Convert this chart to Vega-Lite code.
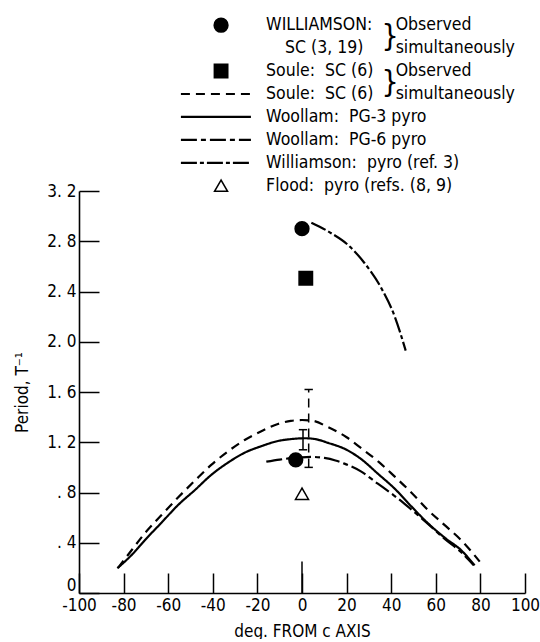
{
  "$schema": "https://vega.github.io/schema/vega-lite/v6.json",
  "padding": {"left": 13, "top": 0, "right": 0, "bottom": 0},
  "bounds": "flush",
  "spacing": 0,
  "background": "white",
  "config": {
    "view": {"stroke": null},
    "font": "DejaVu Sans Condensed, Liberation Sans, sans-serif",
    "text": {"font": "DejaVu Sans Condensed, Liberation Sans, sans-serif", "color": "black"}
  },
  "datasets": {
    "curves": [
      {"series": "Soule SC", "deg": -82.5, "period": 0.2},
      {"series": "Soule SC", "deg": -76, "period": 0.35},
      {"series": "Soule SC", "deg": -70.5, "period": 0.475},
      {"series": "Soule SC", "deg": -63, "period": 0.62},
      {"series": "Soule SC", "deg": -55.6, "period": 0.76},
      {"series": "Soule SC", "deg": -48, "period": 0.895},
      {"series": "Soule SC", "deg": -40.7, "period": 1.02},
      {"series": "Soule SC", "deg": -33, "period": 1.13},
      {"series": "Soule SC", "deg": -25.7, "period": 1.218},
      {"series": "Soule SC", "deg": -18, "period": 1.29},
      {"series": "Soule SC", "deg": -10.8, "period": 1.345},
      {"series": "Soule SC", "deg": -5, "period": 1.37},
      {"series": "Soule SC", "deg": 0, "period": 1.377},
      {"series": "Soule SC", "deg": 5, "period": 1.37},
      {"series": "Soule SC", "deg": 11.7, "period": 1.32},
      {"series": "Soule SC", "deg": 20, "period": 1.24},
      {"series": "Soule SC", "deg": 26.6, "period": 1.152},
      {"series": "Soule SC", "deg": 34, "period": 1.05},
      {"series": "Soule SC", "deg": 41.6, "period": 0.926},
      {"series": "Soule SC", "deg": 49, "period": 0.8},
      {"series": "Soule SC", "deg": 56.5, "period": 0.66},
      {"series": "Soule SC", "deg": 64, "period": 0.54},
      {"series": "Soule SC", "deg": 71.4, "period": 0.42},
      {"series": "Soule SC", "deg": 79.7, "period": 0.25},

      {"series": "Woollam PG-3", "deg": -82.8, "period": 0.197},
      {"series": "Woollam PG-3", "deg": -76, "period": 0.31},
      {"series": "Woollam PG-3", "deg": -70.5, "period": 0.42},
      {"series": "Woollam PG-3", "deg": -63, "period": 0.56},
      {"series": "Woollam PG-3", "deg": -55.6, "period": 0.7},
      {"series": "Woollam PG-3", "deg": -48, "period": 0.82},
      {"series": "Woollam PG-3", "deg": -40.7, "period": 0.94},
      {"series": "Woollam PG-3", "deg": -33, "period": 1.04},
      {"series": "Woollam PG-3", "deg": -25.7, "period": 1.117},
      {"series": "Woollam PG-3", "deg": -18, "period": 1.17},
      {"series": "Woollam PG-3", "deg": -10.8, "period": 1.21},
      {"series": "Woollam PG-3", "deg": -5, "period": 1.225},
      {"series": "Woollam PG-3", "deg": 1.2, "period": 1.232},
      {"series": "Woollam PG-3", "deg": 6, "period": 1.225},
      {"series": "Woollam PG-3", "deg": 11.7, "period": 1.195},
      {"series": "Woollam PG-3", "deg": 20, "period": 1.14},
      {"series": "Woollam PG-3", "deg": 26.6, "period": 1.065},
      {"series": "Woollam PG-3", "deg": 34, "period": 0.95},
      {"series": "Woollam PG-3", "deg": 41.6, "period": 0.83},
      {"series": "Woollam PG-3", "deg": 49, "period": 0.69},
      {"series": "Woollam PG-3", "deg": 56.5, "period": 0.555},
      {"series": "Woollam PG-3", "deg": 64, "period": 0.44},
      {"series": "Woollam PG-3", "deg": 71.4, "period": 0.34},
      {"series": "Woollam PG-3", "deg": 77.4, "period": 0.22},

      {"series": "Woollam PG-6", "deg": -16, "period": 1.045},
      {"series": "Woollam PG-6", "deg": -10, "period": 1.062},
      {"series": "Woollam PG-6", "deg": -5, "period": 1.073},
      {"series": "Woollam PG-6", "deg": 0, "period": 1.08},
      {"series": "Woollam PG-6", "deg": 5, "period": 1.083},
      {"series": "Woollam PG-6", "deg": 10, "period": 1.075},
      {"series": "Woollam PG-6", "deg": 15, "period": 1.055},
      {"series": "Woollam PG-6", "deg": 19, "period": 1.03},
      {"series": "Woollam PG-6", "deg": 26.6, "period": 0.966},
      {"series": "Woollam PG-6", "deg": 34, "period": 0.87},
      {"series": "Woollam PG-6", "deg": 41, "period": 0.78},
      {"series": "Woollam PG-6", "deg": 46, "period": 0.71},
      {"series": "Woollam PG-6", "deg": 52, "period": 0.62},
      {"series": "Woollam PG-6", "deg": 56.5, "period": 0.55},
      {"series": "Woollam PG-6", "deg": 64, "period": 0.43},
      {"series": "Woollam PG-6", "deg": 71, "period": 0.33},
      {"series": "Woollam PG-6", "deg": 77, "period": 0.22},

      {"series": "Williamson pyro", "deg": 4.2, "period": 2.948},
      {"series": "Williamson pyro", "deg": 13.1, "period": 2.864},
      {"series": "Williamson pyro", "deg": 20.6, "period": 2.771},
      {"series": "Williamson pyro", "deg": 28.1, "period": 2.625},
      {"series": "Williamson pyro", "deg": 35.6, "period": 2.426},
      {"series": "Williamson pyro", "deg": 41.6, "period": 2.2},
      {"series": "Williamson pyro", "deg": 46.5, "period": 1.929}
    ],
    "points": [
      {"series": "Williamson SC", "deg": 0, "period": 2.9},
      {"series": "Williamson SC", "deg": -2.8, "period": 1.06},
      {"series": "Soule SC point", "deg": 1.7, "period": 2.505},
      {"series": "Flood pyro", "deg": 0, "period": 0.79}
    ],
    "errbars": [
      {"series": "Soule SC", "deg": 3.0, "lo": 1.0, "hi": 1.62},
      {"series": "Woollam PG-3", "deg": 0.45, "lo": 1.14, "hi": 1.3}
    ],
    "legendSymbols": [
      {"series": "Williamson SC", "row": 0},
      {"series": "Soule SC point", "row": 2},
      {"series": "Flood pyro", "row": 7}
    ],
    "legendLines": [
      {"series": "Soule SC", "row": 3},
      {"series": "Woollam PG-3", "row": 4},
      {"series": "Woollam PG-6", "row": 5},
      {"series": "Williamson pyro", "row": 6}
    ],
    "legendLabels": [
      {"row": 0, "text": "WILLIAMSON:"},
      {"row": 2, "text": "Soule:\u00a0\u00a0SC (6)"},
      {"row": 3, "text": "Soule:\u00a0\u00a0SC (6)"},
      {"row": 4, "text": "Woollam:\u00a0\u00a0PG-3 pyro"},
      {"row": 5, "text": "Woollam:\u00a0\u00a0PG-6 pyro"},
      {"row": 6, "text": "Williamson:\u00a0\u00a0pyro (ref. 3)"},
      {"row": 7, "text": "Flood:\u00a0\u00a0pyro (refs. (8, 9)"}
    ],
    "legendSub": [
      {"row": 1, "text": "SC (3, 19)"}
    ],
    "legendNotes": [
      {"row": 0, "text": "Observed"},
      {"row": 1, "text": "simultaneously"},
      {"row": 2, "text": "Observed"},
      {"row": 3, "text": "simultaneously"}
    ],
    "legendBraces": [
      {"row": 0.5, "text": "}"},
      {"row": 2.5, "text": "}"}
    ]
  },
  "vconcat": [
    {
      "width": 446,
      "height": 191,
      "layer": [
        {
          "data": {"name": "legendLines"},
          "mark": {"type": "rule", "strokeWidth": 2.2, "color": "black"},
          "encoding": {
            "x": {"datum": -54.3, "type": "quantitative", "scale": {"domain": [-100, 100], "nice": false}, "axis": null},
            "x2": {"datum": -22.9},
            "y": {"field": "row", "type": "quantitative", "scale": {"domain": [-1.1, 7.23], "reverse": true, "nice": false, "zero": false}, "axis": null},
            "strokeDash": {
              "field": "series", "type": "nominal", "legend": null,
              "scale": {"domain": ["Soule SC", "Woollam PG-3", "Woollam PG-6", "Williamson pyro"], "range": [[9, 6], [1, 0], [16, 4, 5, 4], [16, 3, 4, 3]]}
            }
          }
        },
        {
          "data": {"name": "legendSymbols"},
          "mark": {"type": "point", "filled": true, "stroke": "black", "strokeWidth": 1.5, "opacity": 1},
          "encoding": {
            "x": {"datum": -36.3, "type": "quantitative"},
            "y": {"field": "row", "type": "quantitative"},
            "shape": {"field": "series", "type": "nominal", "legend": null, "scale": {"domain": ["Williamson SC", "Soule SC point", "Flood pyro"], "range": ["circle", "square", "triangle-up"]}},
            "fill": {"field": "series", "type": "nominal", "legend": null, "scale": {"domain": ["Williamson SC", "Soule SC point", "Flood pyro"], "range": ["black", "black", "white"]}},
            "size": {"field": "series", "type": "nominal", "legend": null, "scale": {"domain": ["Williamson SC", "Soule SC point", "Flood pyro"], "range": [190, 170, 200]}}
          }
        },
        {
          "data": {"name": "legendLabels"},
          "mark": {"type": "text", "align": "left", "baseline": "middle", "fontSize": 17.5},
          "encoding": {
            "x": {"datum": -16.1, "type": "quantitative"},
            "y": {"field": "row", "type": "quantitative"},
            "text": {"field": "text"}
          }
        },
        {
          "data": {"name": "legendSub"},
          "mark": {"type": "text", "align": "left", "baseline": "middle", "fontSize": 17.5},
          "encoding": {
            "x": {"datum": -7.6, "type": "quantitative"},
            "y": {"field": "row", "type": "quantitative"},
            "text": {"field": "text"}
          }
        },
        {
          "data": {"name": "legendNotes"},
          "mark": {"type": "text", "align": "left", "baseline": "middle", "fontSize": 17.5},
          "encoding": {
            "x": {"datum": 42, "type": "quantitative"},
            "y": {"field": "row", "type": "quantitative"},
            "text": {"field": "text"}
          }
        },
        {
          "data": {"name": "legendBraces"},
          "mark": {"type": "text", "align": "left", "baseline": "middle", "fontSize": 30, "fontWeight": 300},
          "encoding": {
            "x": {"datum": 35.6, "type": "quantitative"},
            "y": {"field": "row", "type": "quantitative"},
            "text": {"field": "text"}
          }
        }
      ]
    },
    {
      "width": 446,
      "height": 402,
      "layer": [
        {
          "data": {"name": "curves"},
          "mark": {"type": "line", "interpolate": "monotone", "strokeWidth": 2.2, "color": "black"},
          "encoding": {
            "x": {
              "field": "deg", "type": "quantitative",
              "scale": {"domain": [-100, 100], "nice": false},
              "axis": {
                "values": [-100, -80, -60, -40, -20, 0, 20, 40, 60, 80, 100],
                "labelExpr": "'' + datum.value",
                "title": "deg. FROM c AXIS",
                "grid": false,
                "domainColor": "black", "domainWidth": 1.6,
                "tickColor": "black", "tickWidth": 1.5, "tickSize": -20,
                "labelPadding": 24, "labelFontSize": 17, "labelColor": "black",
                "labelFlush": false,
                "titleFontSize": 17, "titleFontWeight": "normal", "titleColor": "black", "titlePadding": 10
              }
            },
            "y": {
              "field": "period", "type": "quantitative",
              "scale": {"domain": [0, 3.2], "nice": false},
              "axis": {
                "values": [0, 0.4, 0.8, 1.2, 1.6, 2.0, 2.4, 2.8, 3.2],
                "labelExpr": "datum.value === 0 ? '0' : replace(replace(format(datum.value, '.1f'), '0.', '.'), '.', '. ')",
                "title": "Period, T⁻¹",
                "grid": false,
                "domainColor": "black", "domainWidth": 1.6,
                "tickColor": "black", "tickWidth": 1.5, "tickSize": -20,
                "labelPadding": 23, "labelFontSize": 17, "labelColor": "black",
                "labelOffset": {"condition": {"test": "datum.value === 0", "value": -8}, "value": 0},
                "labelFlush": false,
                "titleFontSize": 17, "titleFontWeight": "normal", "titleColor": "black", "titlePadding": 15
              }
            },
            "detail": {"field": "series"},
            "strokeDash": {
              "field": "series", "type": "nominal", "legend": null,
              "scale": {"domain": ["Soule SC", "Woollam PG-3", "Woollam PG-6", "Williamson pyro"], "range": [[11, 6], [1, 0], [40, 5, 6, 5], [36, 5, 6, 5]]}
            }
          }
        },
        {
          "data": {"values": [{"deg": 0, "lo": 0, "hi": 0.25}]},
          "mark": {"type": "rule", "strokeWidth": 1.5, "color": "black"},
          "encoding": {
            "x": {"field": "deg", "type": "quantitative"},
            "y": {"field": "lo", "type": "quantitative"},
            "y2": {"field": "hi"}
          }
        },
        {
          "data": {"name": "errbars"},
          "mark": {"type": "rule", "strokeWidth": 1.5, "color": "black"},
          "encoding": {
            "x": {"field": "deg", "type": "quantitative"},
            "y": {"field": "lo", "type": "quantitative"},
            "y2": {"field": "hi"},
            "strokeDash": {
              "field": "series", "type": "nominal", "legend": null,
              "scale": {"domain": ["Soule SC", "Woollam PG-3"], "range": [[5, 3], [1, 0]]}
            }
          }
        },
        {
          "data": {"name": "errbars"},
          "mark": {"type": "point", "shape": "stroke", "size": 70, "strokeWidth": 1.5, "color": "black", "opacity": 1},
          "encoding": {
            "x": {"field": "deg", "type": "quantitative"},
            "y": {"field": "lo", "type": "quantitative"}
          }
        },
        {
          "data": {"name": "errbars"},
          "mark": {"type": "point", "shape": "stroke", "size": 70, "strokeWidth": 1.5, "color": "black", "opacity": 1},
          "encoding": {
            "x": {"field": "deg", "type": "quantitative"},
            "y": {"field": "hi", "type": "quantitative"}
          }
        },
        {
          "data": {"name": "points"},
          "mark": {"type": "point", "filled": true, "stroke": "black", "strokeWidth": 1.5, "opacity": 1},
          "encoding": {
            "x": {"field": "deg", "type": "quantitative"},
            "y": {"field": "period", "type": "quantitative"},
            "shape": {"field": "series", "type": "nominal", "legend": null, "scale": {"domain": ["Williamson SC", "Soule SC point", "Flood pyro"], "range": ["circle", "square", "triangle-up"]}},
            "fill": {"field": "series", "type": "nominal", "legend": null, "scale": {"domain": ["Williamson SC", "Soule SC point", "Flood pyro"], "range": ["black", "black", "white"]}},
            "size": {"field": "series", "type": "nominal", "legend": null, "scale": {"domain": ["Williamson SC", "Soule SC point", "Flood pyro"], "range": [190, 170, 220]}}
          }
        }
      ]
    }
  ]
}
